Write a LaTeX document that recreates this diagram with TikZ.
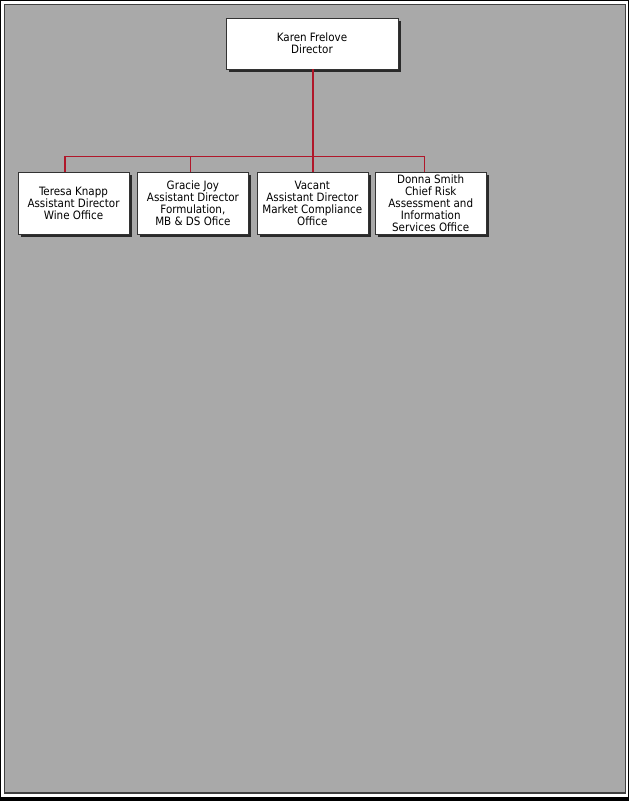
\documentclass[tikz,border=0pt]{standalone}
\usepackage{fontspec}
\setmainfont{DejaVu Sans Condensed}
\usetikzlibrary{positioning,shadows}

\definecolor{panelgray}{HTML}{A9A9A9}
\definecolor{linkred}{HTML}{B0172A}

\begin{document}
\begin{tikzpicture}[x=1pt,y=-1pt,node distance=8pt,
                    box node/.style={rectangle,draw=black!80,fill=white,align=center,inner sep=0pt,
                                     font=\fontsize{11.5}{12}\selectfont,
                                     drop shadow={shadow xshift=3pt,shadow yshift=-3pt,fill=black,opacity=0.75}},
                    link/.style={draw=linkred,line width=1.4pt}]
  \useasboundingbox (0,0) rectangle (629,801);
  % frame
  \fill[black] (0,0) rectangle (629,801);
  \fill[white] (1,1) rectangle (628,796.5);
  \fill[black!75] (3.5,3.5) rectangle (626,794);
  \fill[panelgray] (5,5) rectangle (624.5,792);

  \node[box node,minimum width=172pt,minimum height=51pt] (0) at (312,43.5) {Karen Frelove\\Director};
  \node[box node,minimum width=111pt,minimum height=62pt] (1) at (73.5,203) {Teresa Knapp\\Assistant Director\\Wine Office};
  \node[box node,minimum width=111pt,minimum height=62pt] (2) [right=of 1] {Gracie Joy\\Assistant Director\\Formulation,\\MB \& DS Ofice};
  \node[box node,minimum width=111pt,minimum height=62pt] (3) [right=of 2] {Vacant\\Assistant Director\\Market Compliance\\Office};
  \node[box node,minimum width=111pt,minimum height=62pt] (4) [right=7pt of 3] {Donna Smith\\Chief Risk\\Assessment and\\Information\\Services Office};

  \path (0.south) ++(1,87) coordinate (bus);
  \draw[link] (bus) -- (bus |- 0.south);
  \draw[link] (bus) -| ([xshift=-8.5pt]1.north);
  \draw[link] (bus) -| ([xshift=-2.5pt]2.north);
  \draw[link] (bus) -- (bus |- 3.north);
  \draw[link] (bus) -| ([xshift=-6pt]4.north);
\end{tikzpicture}
\end{document}
